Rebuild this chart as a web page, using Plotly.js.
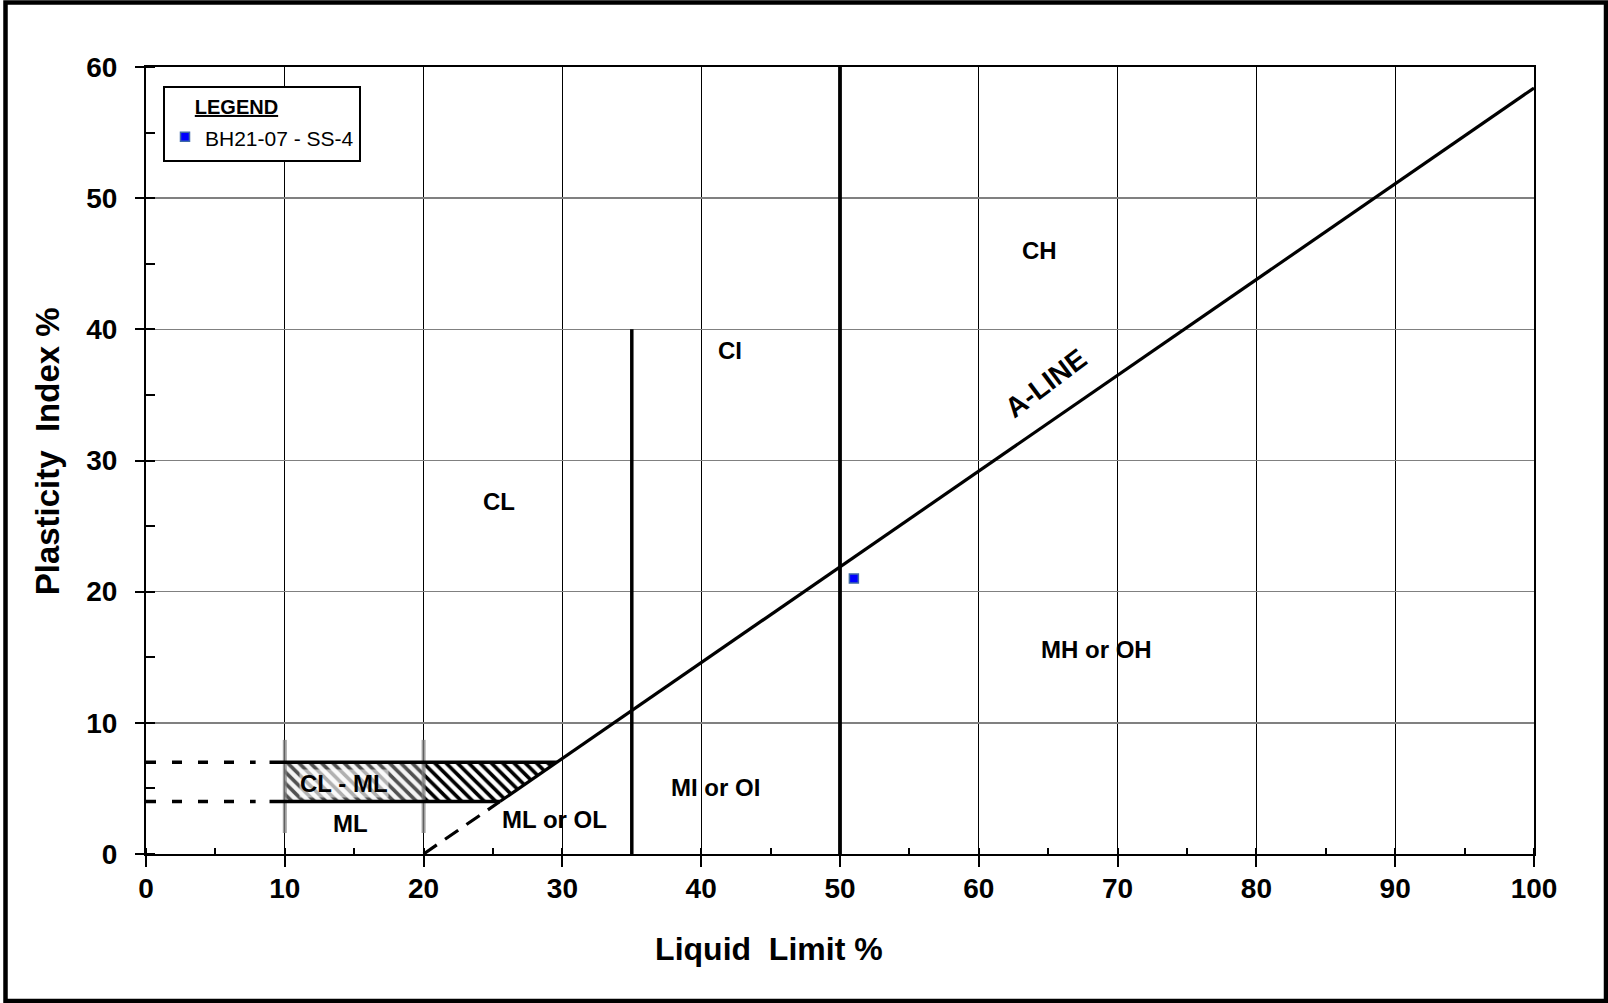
<!DOCTYPE html>
<html>
<head>
<meta charset="utf-8">
<script src="https://cdn.plot.ly/plotly-3.0.1.min.js"></script>
<style>
  html, body { margin: 0; padding: 0; background: #fff; }
  #chart { width: 1608px; height: 1003px; }
</style>
</head>
<body>
<div id="chart"></div>
<script>
// ---- Data ----
// Sample point
const sampleName = 'BH21-07 - SS-4';
const sampleLL = [51];
const samplePI = [21];

// A-line (PI = 0.73 (LL - 20)), dashed part below the CL-ML band, solid above
const aLineDashLL = [20, 25.5];
const aLineDashPI = [0, 4];
const aLineLL = [25.5, 100];
const aLinePI = [4, 58.4];

// CL-ML band limits (PI = 7 and PI = 4)
const bandUpperLL = [8.9, 29.6];
const bandUpperPI = [7, 7];
const bandLowerLL = [8.9, 25.5];
const bandLowerPI = [4, 4];
const bandUpperDashLL = [0, 7.9];
const bandUpperDashPI = [7, 7];
const bandLowerDashLL = [0, 7.9];
const bandLowerDashPI = [4, 4];

// Hatched CL-ML zone (two parts)
const hatchLeftLL = [10, 20, 20, 10, 10];
const hatchLeftPI = [7, 7, 4, 4, 7];
const hatchRightLL = [20, 29.6, 25.5, 20, 20];
const hatchRightPI = [7, 7, 4, 4, 7];

// Liquid-limit boundaries
const ll35LL = [35, 35];
const ll35PI = [0, 40];
const ll50LL = [50, 50];
const ll50PI = [0, 60];

// Grey marks framing the hatched zone
const greyMark10LL = [10, 10];
const greyMark20LL = [20, 20];
const greyMarkPI = [1.6, 8.7];

// Zone labels
const zoneLabels = ['CH', 'CI', 'CL', 'MH or OH', 'MI or OI', 'ML or OL', 'ML', 'CL - ML'];
const zoneLabelLL = [64.4, 42.1, 25.4, 68.5, 41.0, 29.45, 14.75, 14.3];
const zoneLabelPI = [46.0, 38.4, 26.9, 15.6, 5.06, 2.64, 2.33, 5.37];
const aLineLabel = 'A-LINE';
const aLineLabelLL = 64.8;
const aLineLabelPI = 35.9;

// Ticks
const xTickVals = [0, 10, 20, 30, 40, 50, 60, 70, 80, 90, 100];
const yTickVals = [0, 10, 20, 30, 40, 50, 60];

// ---- Chart ----
const FONT = 'Liberation Sans, Arial, Helvetica, sans-serif';
const nb = '\u00a0';
const zw = '\u200b';

function line(x, y, width, color, dash) {
  return { type: 'scatter', mode: 'lines', x: x, y: y, showlegend: false, hoverinfo: 'skip',
           line: { width: width, color: color, dash: dash || 'solid' } };
}

const traces = [
  { type: 'scatter', mode: 'lines', x: hatchLeftLL, y: hatchLeftPI, fill: 'toself',
    fillcolor: 'white', line: { width: 0 }, showlegend: false, hoverinfo: 'skip',
    fillpattern: { shape: '\\', size: 8, solidity: 0.45, fgcolor: '#505050', bgcolor: '#f4f4f4' } },
  { type: 'scatter', mode: 'lines', x: hatchRightLL, y: hatchRightPI, fill: 'toself',
    fillcolor: 'white', line: { width: 0 }, showlegend: false, hoverinfo: 'skip',
    fillpattern: { shape: '\\', size: 8, solidity: 0.45, fgcolor: 'black', bgcolor: 'white' } },
  line(greyMark10LL, greyMarkPI, 4, 'rgba(128,128,128,0.75)'),
  line(greyMark20LL, greyMarkPI, 4, 'rgba(128,128,128,0.75)'),
  line(aLineDashLL, aLineDashPI, 3.2, 'black', '16px,10px'),
  line(aLineLL, aLinePI, 3.2, 'black'),
  line(bandUpperLL, bandUpperPI, 3.5, 'black'),
  line(bandLowerLL, bandLowerPI, 3.5, 'black'),
  line(bandUpperDashLL, bandUpperDashPI, 3.5, 'black', '10px,16px'),
  line(bandLowerDashLL, bandLowerDashPI, 3.5, 'black', '10px,16px'),
  line(ll35LL, ll35PI, 3.5, 'black'),
  line(ll50LL, ll50PI, 3.8, 'black'),
  { type: 'scatter', mode: 'markers', name: '<span style="font-size:21px">' + sampleName + '</span>',
    x: sampleLL, y: samplePI,
    marker: { symbol: 'square', size: 9, color: '#0000ff', line: { width: 1.5, color: '#3f6aa8' } },
    showlegend: true }
];

const annotations = zoneLabels.map((t, i) => ({
  x: zoneLabelLL[i], y: zoneLabelPI[i], xref: 'x', yref: 'y', text: t, showarrow: false,
  xanchor: 'center', yanchor: 'middle', font: { family: FONT, size: 24, color: 'black', weight: 'bold' },
  bgcolor: t === 'CL - ML' ? 'rgba(255,255,255,0.55)' : 'rgba(0,0,0,0)', borderpad: 0
}));
annotations.push({
  x: aLineLabelLL, y: aLineLabelPI, xref: 'x', yref: 'y', text: aLineLabel, showarrow: false,
  textangle: -37, xanchor: 'center', yanchor: 'middle',
  font: { family: FONT, size: 28, color: 'black', weight: 'bold' }
});

const layout = {
  width: 1608, height: 1003,
  margin: { l: 146, r: 74, t: 67, b: 149, pad: 0 },
  paper_bgcolor: 'white', plot_bgcolor: 'white',
  font: { family: FONT, color: 'black' },
  showlegend: true,
  legend: {
    x: 0.01225, y: 0.9759, xanchor: 'left', yanchor: 'top',
    bgcolor: 'white', bordercolor: 'black', borderwidth: 2,
    font: { family: FONT, size: 25, color: 'black' },
    title: { text: nb + nb + nb + nb + nb + '<b><span style="text-decoration:underline">LEGEND</span></b>', side: 'top',
             font: { family: FONT, size: 20, color: 'black' } },
    itemwidth: 30
  },
  xaxis: {
    range: [0, 100], tickvals: xTickVals, ticktext: xTickVals.map(String),
    showgrid: true, gridcolor: 'black', gridwidth: 1.3, zeroline: false,
    showline: true, linecolor: 'black', linewidth: 2, mirror: true,
    ticks: 'outside', ticklen: 11, tickwidth: 2, tickcolor: 'black',
    tickfont: { family: FONT, size: 28, color: 'black', weight: 'bold' },
    ticklabelstandoff: -3,
    minor: { dtick: 5, tick0: 0, ticks: 'inside', ticklen: 6, tickwidth: 2, tickcolor: 'black', showgrid: false },
    title: { text: 'Liquid' + nb + nb + 'Limit' + nb + '%' + nb.repeat(16) + zw, standoff: 35,
             font: { family: FONT, size: 32, color: 'black', weight: 'bold' } },
    fixedrange: true
  },
  yaxis: {
    range: [0, 60], tickvals: yTickVals, ticktext: yTickVals.map(String),
    showgrid: true, gridcolor: '#808080', gridwidth: 1.5, zeroline: false,
    showline: true, linecolor: 'black', linewidth: 2, mirror: true,
    ticks: 'outside', ticklen: 9, tickwidth: 2, tickcolor: 'black',
    tickfont: { family: FONT, size: 28, color: 'black', weight: 'bold' },
    ticklabelstandoff: 12,
    minor: { dtick: 5, tick0: 0, ticks: 'inside', ticklen: 9, tickwidth: 2, tickcolor: 'black', showgrid: false },
    title: { text: zw + nb + nb + 'Plasticity' + nb + nb + 'Index' + nb + '%', standoff: 17,
             font: { family: FONT, size: 33, color: 'black', weight: 'bold' } },
    fixedrange: true
  },
  annotations: annotations,
  shapes: [
    { type: 'rect', xref: 'paper', yref: 'paper',
      x0: (5.5 - 146) / 1388, x1: (1606 - 146) / 1388,
      y0: (854 - 1001) / 787, y1: (854 - 2.5) / 787,
      line: { color: 'black', width: 4.5 }, fillcolor: 'rgba(0,0,0,0)', layer: 'above' }
  ]
};

Plotly.newPlot('chart', traces, layout, { displayModeBar: false, staticPlot: true });
</script>
</body>
</html>
